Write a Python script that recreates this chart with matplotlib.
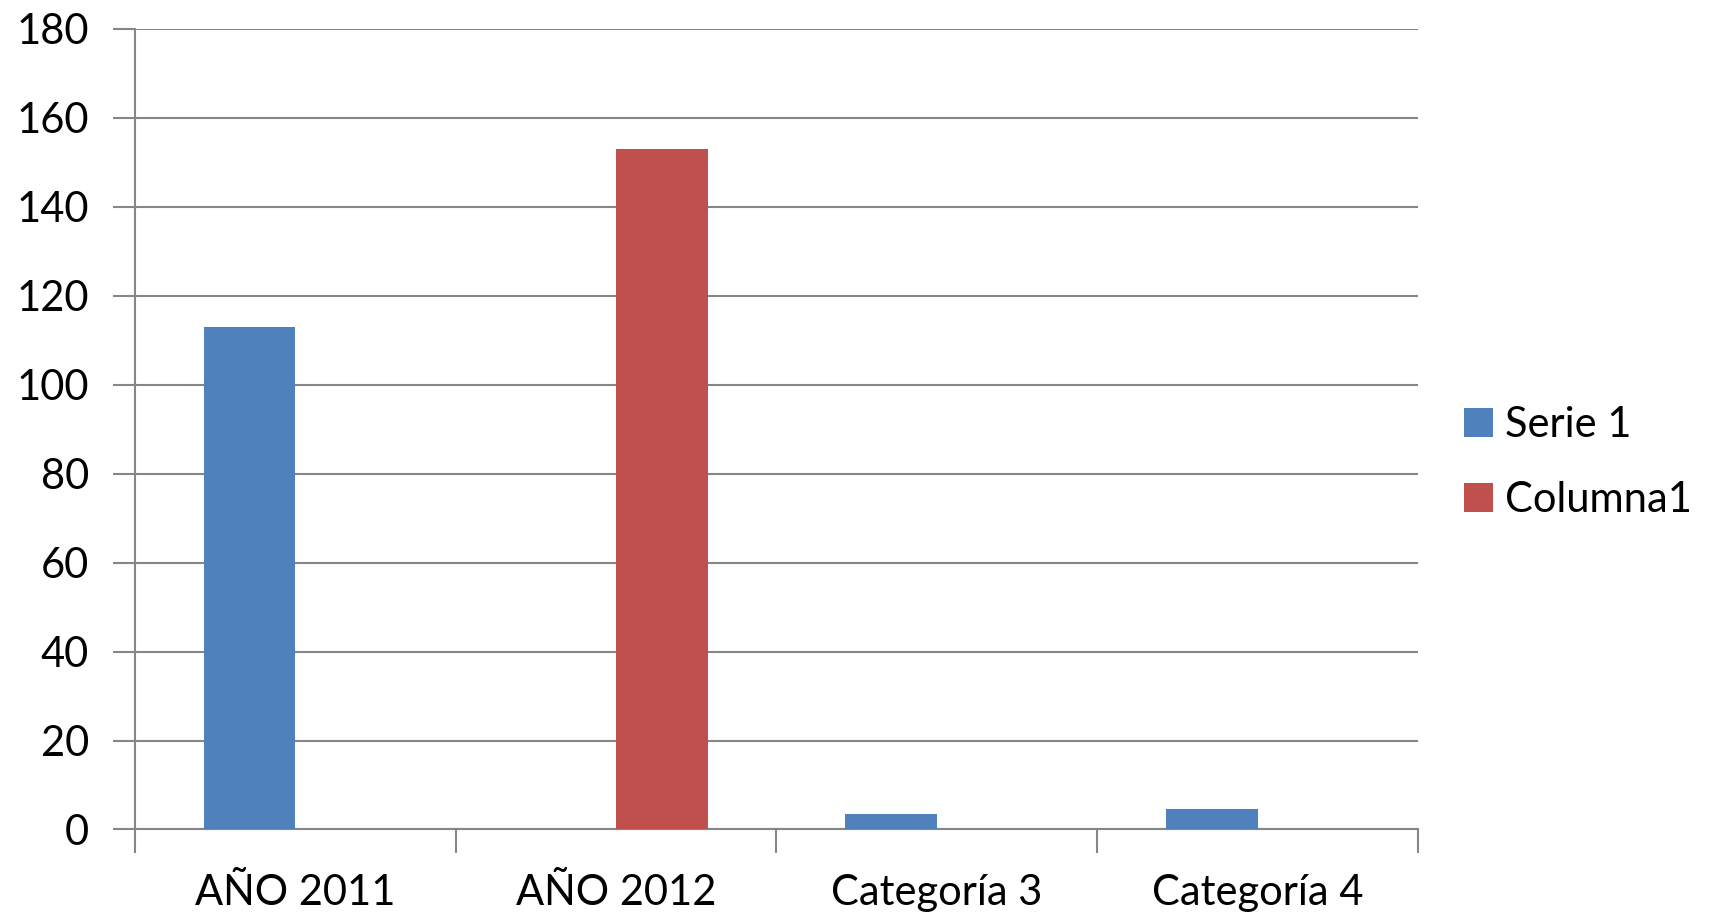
import numpy as np
import matplotlib
matplotlib.use("Agg")
import matplotlib.pyplot as plt

# Chart data
categories = ['AÑO 2011', 'AÑO 2012', 'Categoría 3', 'Categoría 4']
serie1 = [113, 0, 3.5, 4.5]
columna1 = [0, 153, 0, 0]
series_names = ['Serie 1', 'Columna1']
y_ticks = [0, 20, 40, 60, 80, 100, 120, 140, 160, 180]

plt.rcParams['font.family'] = ['Lato', 'DejaVu Sans']

grid_col = '#868686'
fig = plt.figure(figsize=(17.15, 9.19), dpi=100)
ax = fig.add_axes([0.0787, 0.0974, 0.7481, 0.8714])

x = np.arange(len(categories))
width = 1 / 3.5  # Excel gap width 150%
ax.bar(x - width / 2, serie1, width, color='#4F81BD', label=series_names[0], zorder=3)
ax.bar(x + width / 2, columna1, width, color='#C0504D', label=series_names[1], zorder=3)

ax.set_xlim(-0.5, len(categories) - 0.5)
ax.set_ylim(0, 180)
ax.set_yticks(y_ticks)
ax.yaxis.grid(True, color=grid_col, linewidth=1.5, zorder=0)
ax.set_axisbelow(True)

# category boundaries as ticks, labels at centres
ax.set_xticks(np.arange(len(categories) + 1) - 0.5)
ax.set_xticklabels([''] * (len(categories) + 1))
ax.set_xticks(x, minor=True)
ax.set_xticklabels(categories, minor=True)
ax.tick_params(axis='x', which='major', length=17, width=1.5, color=grid_col)
ax.tick_params(axis='x', which='minor', length=0, pad=32, labelsize=30)
ax.tick_params(axis='y', length=16, width=1.5, color=grid_col, pad=17, labelsize=30)

for s in ['top', 'right']:
    ax.spines[s].set_visible(False)
for s in ['left', 'bottom']:
    ax.spines[s].set_color(grid_col)
    ax.spines[s].set_linewidth(1.5)

fig.legend(loc='center left', bbox_to_anchor=(1464 / 1715, 1 - 462.5 / 919),
           frameon=False, fontsize=30, handlelength=0.69, handleheight=0.69,
           handletextpad=0.3, labelspacing=0.9, borderpad=0, borderaxespad=0)

fig.savefig('out.png', dpi=100)
